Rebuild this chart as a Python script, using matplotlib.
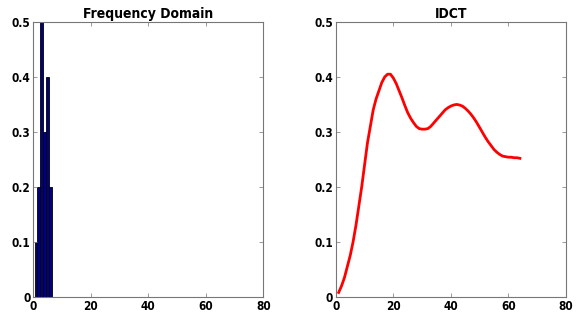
import matplotlib.pyplot as plt
import numpy as np

# DCT coefficients (frequency domain)
freq_k = [1, 2, 3, 4, 5, 6]
freq_val = [0.1, 0.2, 0.5, 0.3, 0.4, 0.2]

# reconstructed signal (IDCT)
idct_n = list(range(1, 65))
idct_val = [0.008, 0.02, 0.035, 0.055, 0.075, 0.10, 0.13, 0.165, 0.20, 0.24,
            0.28, 0.31, 0.34, 0.36, 0.375, 0.39, 0.40, 0.405, 0.405, 0.398,
            0.388, 0.375, 0.362, 0.348, 0.335, 0.325, 0.317, 0.31, 0.306, 0.305,
            0.305, 0.306, 0.31, 0.316, 0.322, 0.328, 0.334, 0.34, 0.344, 0.347,
            0.349, 0.35, 0.349, 0.347, 0.343, 0.338, 0.332, 0.325, 0.317, 0.308,
            0.299, 0.29, 0.282, 0.275, 0.268, 0.263, 0.259, 0.256, 0.255, 0.254,
            0.254, 0.253, 0.253, 0.252]

xticks = [0, 20, 40, 60, 80]
yticks = [0, 0.1, 0.2, 0.3, 0.4, 0.5]
ytick_labels = ["0", "0.1", "0.2", "0.3", "0.4", "0.5"]

plt.rcParams["font.family"] = "DejaVu Sans"
plt.rcParams["font.stretch"] = "condensed"
plt.rcParams["font.weight"] = "bold"

fig = plt.figure(figsize=(5.81, 3.23), dpi=100)
ax1 = fig.add_axes([0.057, 0.081, 0.396, 0.851])
ax2 = fig.add_axes([0.578, 0.081, 0.396, 0.851])


def style(ax, title):
    ax.set_xlim(0, 80)
    ax.set_ylim(0, 0.5)
    ax.set_xticks(xticks)
    ax.set_yticks(yticks)
    ax.set_yticklabels(ytick_labels)
    ax.tick_params(direction="in", top=True, right=True, length=3, width=0.6,
                   color="#888888", labelsize=8.5, pad=2)
    for s in ax.spines.values():
        s.set_color("#777777")
        s.set_linewidth(0.8)
    ax.set_title(title, fontsize=10, fontweight="bold", pad=3)


ax1.bar(freq_k, freq_val, width=1.0, color="#000080", edgecolor="black", linewidth=0.6)
style(ax1, "Frequency Domain")

ax2.plot(idct_n, idct_val, color="red", lw=2)
style(ax2, "IDCT")

fig.savefig("out.png", dpi=100)
